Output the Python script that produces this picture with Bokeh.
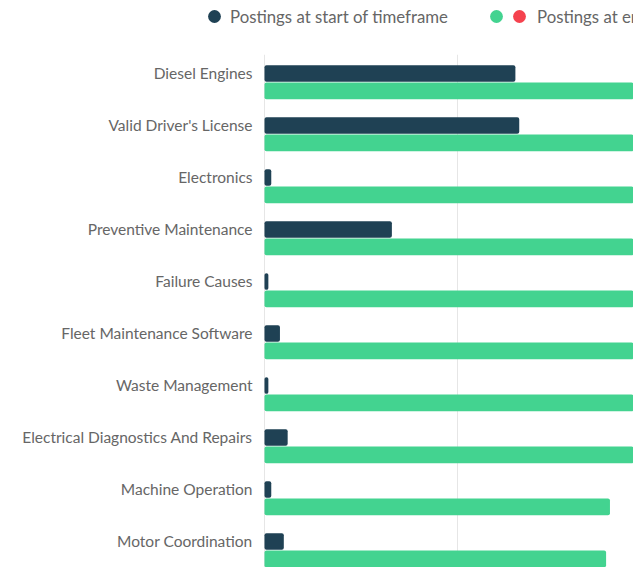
from bokeh.plotting import figure
from bokeh.models import ColumnDataSource, Legend, LegendItem, Grid, FixedTicker, Range1d
from bokeh.core.properties import value
from bokeh.layouts import column
from bokeh.embed import file_html
from bokeh.resources import INLINE
from bokeh.transform import dodge

# Skills, top to bottom, with posting counts at the start and end of the timeframe
skills = [
    "Diesel Engines",
    "Valid Driver's License",
    "Electronics",
    "Preventive Maintenance",
    "Failure Causes",
    "Fleet Maintenance Software",
    "Waste Management",
    "Electrical Diagnostics And Repairs",
    "Machine Operation",
    "Motor Coordination",
]
start_postings = [130, 132, 3.5, 66, 2, 8, 2, 12, 3.5, 10]
end_postings = [260, 250, 240, 230, 225, 220, 215, 205, 179, 177]
grid_values = [0, 100, 200]

NAVY = "#1f4154"
GREEN = "#43d390"
RED = "#f5424e"
TEXT = "#666666"
FONT = "Lato"

rows = list(range(len(skills) - 1, -1, -1))
source = ColumnDataSource(dict(row=rows, skill=skills, start=start_postings, end=end_postings))

# The frame covers the full width; the label gutter lives left of x = 0
p = figure(
    width=633, height=513,
    x_range=Range1d(-136.8, 191.2), y_range=Range1d(-0.5, 9.365),
    x_axis_location=None, y_axis_location=None,
    output_backend="svg", toolbar_location=None,
    min_border=0,
)
p.outline_line_color = None
p.xgrid.grid_line_color = None
p.ygrid.grid_line_color = None
p.add_layout(Grid(dimension=0, ticker=FixedTicker(ticks=grid_values),
                  grid_line_color="#e6e6e6", grid_line_width=1))

p.hbar(y="row", left=0, right="start", height=0.32, source=source,
       fill_color=NAVY, line_color=None, border_radius=2)
p.hbar(y=dodge("row", -0.335), left=0, right="end", height=0.32, source=source,
       fill_color=GREEN, line_color=None, border_radius=2)

# category labels, right-aligned against the zero line
p.text(x=0, y="row", text="skill", source=source, x_offset=-12,
       text_align="right", text_baseline="middle",
       text_font=value(FONT), text_font_size="15.5px", text_color=TEXT)

# Legend strip above the chart
lg = figure(
    width=633, height=54,
    x_range=Range1d(0, 1), y_range=Range1d(0, 1),
    x_axis_location=None, y_axis_location=None,
    output_backend="svg", toolbar_location=None,
    min_border=0,
)
lg.outline_line_color = None
lg.xgrid.visible = False
lg.ygrid.visible = False

# legend swatches only; the points sit outside the visible range
swatch = ColumnDataSource(dict(x=[-5], y=[-5]))
r_start = lg.scatter("x", "y", source=swatch, marker="circle", fill_color=NAVY, line_color=None)
r_up = lg.scatter("x", "y", source=swatch, marker="circle", fill_color=GREEN, line_color=None)
r_down = lg.scatter("x", "y", source=swatch, marker="circle", fill_color=RED, line_color=None)


def legend_at(renderer, label, x, standoff=0):
    return Legend(
        items=[LegendItem(label=label, renderers=[renderer])],
        location=(x, 22), orientation="horizontal",
        glyph_width=32, glyph_height=32, label_standoff=standoff,
        padding=0, margin=0, spacing=0,
        border_line_color=None, background_fill_alpha=0,
        label_text_font=FONT, label_text_font_size="16.8px", label_text_color=TEXT,
    )


lg.add_layout(legend_at(r_start, "Postings at start of timeframe", 198), "center")
lg.add_layout(legend_at(r_up, " ", 480), "center")
lg.add_layout(legend_at(r_down, "Postings at end of timeframe", 503, standoff=2), "center")

layout = column(lg, p, spacing=0)
open("out.html", "w").write(file_html(layout, INLINE))
